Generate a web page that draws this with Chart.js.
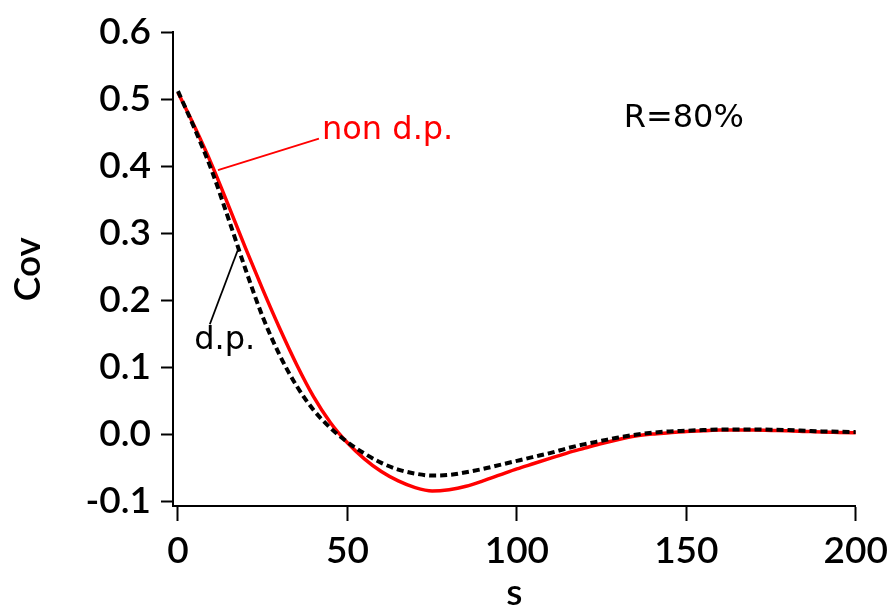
<!DOCTYPE html>
<html>
<head>
<meta charset="utf-8">
<script src="https://cdn.jsdelivr.net/npm/chart.js@4.4.1/dist/chart.umd.min.js"></script>
<style>
  html, body { margin: 0; padding: 0; background: #fff; }
  #wrap { width: 896px; height: 607px; position: relative; }
</style>
</head>
<body>
<div id="wrap"><canvas id="grafica"></canvas></div>
<script>
// valores
const sVals = [0, 5, 10, 15, 20, 25, 30, 35, 40, 45, 50, 55, 60, 65, 70, 75, 80, 85, 90, 95,
  100, 105, 110, 115, 120, 125, 130, 135, 140, 145, 150, 155, 160, 165, 170, 175, 180, 185, 190, 195, 200];
const covNonDP = [0.510, 0.458, 0.402, 0.340, 0.277, 0.216, 0.158, 0.104, 0.056, 0.017, -0.013, -0.037, -0.056, -0.070, -0.080, -0.085, -0.083, -0.078, -0.070, -0.061,
  -0.052, -0.044, -0.036, -0.028, -0.021, -0.014, -0.008, -0.003, 0.000, 0.002, 0.004, 0.005, 0.006, 0.006, 0.006, 0.0055, 0.005, 0.004, 0.003, 0.0025, 0.002];
const covDP = [0.512, 0.455, 0.393, 0.320, 0.245, 0.175, 0.118, 0.072, 0.036, 0.009, -0.012, -0.029, -0.043, -0.053, -0.059, -0.062, -0.061, -0.057, -0.052, -0.046,
  -0.040, -0.034, -0.028, -0.021, -0.015, -0.010, -0.005, -0.001, 0.002, 0.004, 0.005, 0.006, 0.007, 0.007, 0.007, 0.0065, 0.006, 0.005, 0.004, 0.0035, 0.003];
const xTicks = [0, 50, 100, 150, 200];
const yTicks = [-0.1, 0.0, 0.1, 0.2, 0.3, 0.4, 0.5, 0.6];

// textos y líneas de referencia (en unidades de datos)
const etiquetas = [
  { text: 'non d.p.', s: 42.5, v: 0.441, color: '#ff0000' },
  { text: 'd.p.', s: 4.8, v: 0.127, color: '#000000' },
  { text: 'R=80%', s: 131.5, v: 0.458, color: '#000000' }
];
const guias = [
  { s1: 11.8, v1: 0.394, s2: 41.6, v2: 0.441, color: '#ff0000' },
  { s1: 17.6, v1: 0.274, s2: 9.4, v2: 0.164, color: '#000000' }
];

const fuenteEjes = { family: 'Lato', size: 37, weight: '600' };

const anotaciones = {
  id: 'anotaciones',
  afterDatasetsDraw(chart) {
    const ctx = chart.ctx;
    const x = chart.scales.x, y = chart.scales.y;
    ctx.save();
    guias.forEach(g => {
      ctx.strokeStyle = g.color;
      ctx.lineWidth = 1.8;
      ctx.beginPath();
      ctx.moveTo(x.getPixelForValue(g.s1), y.getPixelForValue(g.v1));
      ctx.lineTo(x.getPixelForValue(g.s2), y.getPixelForValue(g.v2));
      ctx.stroke();
    });
    ctx.font = '32px "DejaVu Sans"';
    ctx.textBaseline = 'alphabetic';
    ctx.textAlign = 'left';
    etiquetas.forEach(e => {
      ctx.fillStyle = e.color;
      ctx.fillText(e.text, x.getPixelForValue(e.s), y.getPixelForValue(e.v));
    });
    ctx.restore();
  }
};

const ctx = document.getElementById('grafica').getContext('2d');
const chart = new Chart(ctx, {
  type: 'line',
  data: {
    datasets: [
      {
        label: 'd.p.',
        data: sVals.map((s, i) => ({ x: s, y: covDP[i] })),
        borderColor: '#000000',
        borderWidth: 4,
        borderDash: [7, 4],
        pointRadius: 0,
        fill: false,
        cubicInterpolationMode: 'monotone'
      },
      {
        label: 'non d.p.',
        data: sVals.map((s, i) => ({ x: s, y: covNonDP[i] })),
        borderColor: '#ff0000',
        borderWidth: 3.5,
        pointRadius: 0,
        fill: false,
        cubicInterpolationMode: 'monotone'
      }
    ]
  },
  options: {
    responsive: true,
    maintainAspectRatio: false,
    animation: false,
    layout: { padding: { left: 0, top: 25, right: 35, bottom: 0 } },
    plugins: {
      legend: { display: false },
      tooltip: { enabled: false }
    },
    scales: {
      x: {
        type: 'linear',
        min: -1.464,
        max: 200,
        afterFit: s => { s.height = 101; },
        afterBuildTicks: s => { s.ticks = xTicks.map(v => ({ value: v })); },
        border: { display: true, color: '#000', width: 2 },
        grid: { drawOnChartArea: false, drawTicks: true, tickLength: 15, tickWidth: 2, tickColor: '#000' },
        ticks: { color: '#000', font: fuenteEjes, padding: 8, maxRotation: 0, callback: v => String(v) },
        title: { display: true, text: 's', color: '#000', font: fuenteEjes, padding: { top: 0, bottom: -8 } }
      },
      y: {
        type: 'linear',
        min: -0.1074,
        max: 0.6,
        afterFit: s => { s.width = 173; },
        afterBuildTicks: s => { s.ticks = yTicks.map(v => ({ value: v })); },
        border: { display: true, color: '#000', width: 2 },
        grid: { drawOnChartArea: false, drawTicks: true, tickLength: 12, tickWidth: 2, tickColor: '#000' },
        ticks: { color: '#000', font: fuenteEjes, padding: 10, callback: v => v.toFixed(1) },
        title: { display: true, text: 'Cov', color: '#000', font: fuenteEjes, padding: 6 }
      }
    }
  },
  plugins: [anotaciones]
});
</script>
</body>
</html>
